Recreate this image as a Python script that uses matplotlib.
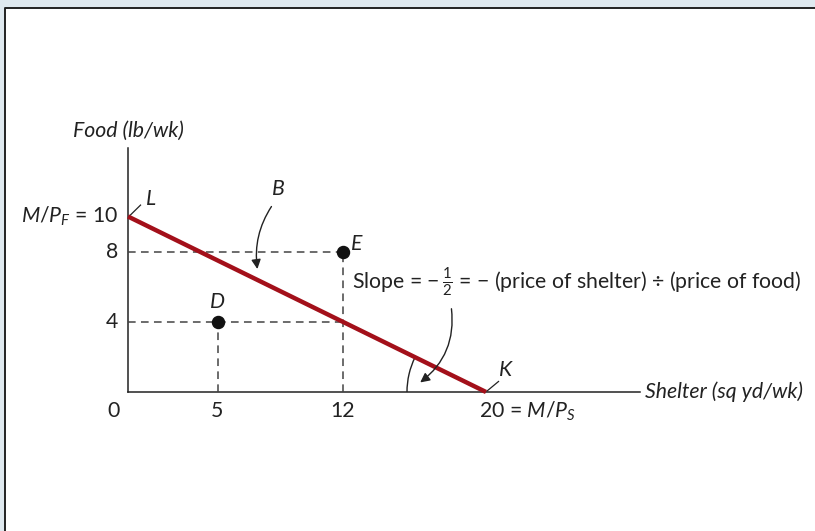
import numpy as np
import matplotlib
matplotlib.use("Agg")
import matplotlib.pyplot as plt
from matplotlib.patches import Arc, Rectangle
from matplotlib.lines import Line2D

plt.rcParams['font.family'] = 'Lato'
plt.rcParams['mathtext.fontset'] = 'custom'
plt.rcParams['mathtext.rm'] = 'Lato'
plt.rcParams['mathtext.it'] = 'Lato:italic'

# budget line end points (shelter, food)
budget_x = [0, 20]
budget_y = [10, 0]
# bundles
bundle_names = ["D", "E"]
bundle_x = [5, 12]
bundle_y = [4, 8]
# tick labels
x_ticks = [0, 5, 12, 20]
x_labels = ["0", "5", "12", r"20 = $\mathit{M/P_S}$"]
y_ticks = [4, 8, 10]
y_labels = ["4", "8", r"$\mathit{M/P_F}$ = 10"]

W, H = 815, 531
x0px, y0px = 128, 392      # pixel position of the origin
sx, sy = 17.9, 17.55       # pixels per unit

fig = plt.figure(figsize=(W / 100, H / 100), dpi=100)
fig.patch.set_facecolor("#dfe9ef")

ax = fig.add_axes([0, 0, 1, 1])
ax.set_xlim(-x0px / sx, (W - x0px) / sx)
ax.set_ylim(-(H - y0px) / sy, y0px / sy)
ax.axis("off")
ax.patch.set_alpha(0)

# white panel with dark top/left border
ax.add_patch(Rectangle((5 / W, 0), 1, 1 - 8 / H, transform=fig.transFigure,
                       facecolor="white", edgecolor="none", zorder=-10, clip_on=False))
ax.add_line(Line2D([5 / W, 5 / W, 1], [0, 1 - 8 / H, 1 - 8 / H],
                   transform=fig.transFigure, color="#222222", lw=1.4,
                   zorder=-9, clip_on=False))

fs = 15.3
dark = "#222222"
red = "#a3101a"

# axes
ax.plot([0, 0], [0, 13.9], color=dark, lw=1.1)
ax.plot([0, 28.6], [0, 0], color=dark, lw=1.1)
ax.text(0, (y0px - 131) / sy, "Food (lb/wk)", style="italic", fontsize=fs,
        ha="center", va="center", color=dark)
ax.text(28.9, 0, "Shelter (sq yd/wk)", style="italic", fontsize=fs,
        ha="left", va="center", color=dark)

# dashed guides
dash = dict(color="#444444", lw=1.1, ls=(0, (5, 3.5)))
for bx, by in zip(bundle_x, bundle_y):
    ax.plot([0, bx], [by, by], **dash)
    ax.plot([bx, bx], [0, by], **dash)
ax.plot([5, 12], [4, 4], **dash)

# budget line
ax.plot(budget_x, budget_y, color=red, lw=3.2, solid_capstyle="butt", zorder=3)

# bundles
ax.scatter(bundle_x, bundle_y, s=75, color="#111111", zorder=4)
ax.text(bundle_x[0], bundle_y[0] + 0.55, bundle_names[0], style="italic",
        fontsize=fs, ha="center", va="bottom", color=dark)
ax.text(bundle_x[1] + 0.45, bundle_y[1] + 0.45, bundle_names[1], style="italic",
        fontsize=fs, ha="left", va="center", color=dark)

# tick labels
for t, lab in zip(x_ticks, x_labels):
    if t == 0:
        ax.text(-0.8, -1.1, lab, fontsize=fs, ha="center", va="center", color=dark)
    elif t == 20:
        ax.text(t - 0.4, -1.1, lab, fontsize=fs, ha="left", va="center", color=dark)
    else:
        ax.text(t, -1.1, lab, fontsize=fs, ha="center", va="center", color=dark)
for t, lab in zip(y_ticks, y_labels):
    ax.text(-0.55, t, lab, fontsize=fs, ha="right", va="center", color=dark)

# L and K labels with leader ticks
ax.plot([0.05, 0.7], [10.0, 10.65], color=dark, lw=0.9)
ax.text(1.0, 11.0, "L", style="italic", fontsize=fs, ha="left", va="center", color=dark)
ax.plot([20.05, 20.7], [0.05, 0.6], color=dark, lw=0.9)
ax.text(20.7, 1.25, "K", style="italic", fontsize=fs, ha="left", va="center", color=dark)

# B label with curved arrow
ax.text(8.4, 11.55, "B", style="italic", fontsize=fs, ha="center", va="center", color=dark)
ax.annotate("", xy=(7.25, 6.85), xytext=(8.1, 10.7),
            arrowprops=dict(arrowstyle="-|>", color=dark, lw=1.0,
                            mutation_scale=14,
                            connectionstyle="arc3,rad=0.2"))

# slope text and arrow
ax.text(12.5, 6.3, r"Slope = $-\,\frac{1}{2}$ = $-$ (price of shelter) $\div$ (price of food)",
        fontsize=fs, ha="left", va="center", color=dark)
ax.annotate("", xy=(16.2, 0.45), xytext=(18.05, 4.9),
            arrowprops=dict(arrowstyle="-|>", color=dark, lw=1.0,
                            mutation_scale=14,
                            connectionstyle="arc3,rad=-0.3"))

# angle arc at K
r = 20 - (407 - x0px) / sx
ax.add_patch(Arc((20, 0), 2 * r, 2 * r * sx / sy, theta1=153.4, theta2=180,
                 color=dark, lw=1.0))

fig.savefig("out.png", dpi=100)
